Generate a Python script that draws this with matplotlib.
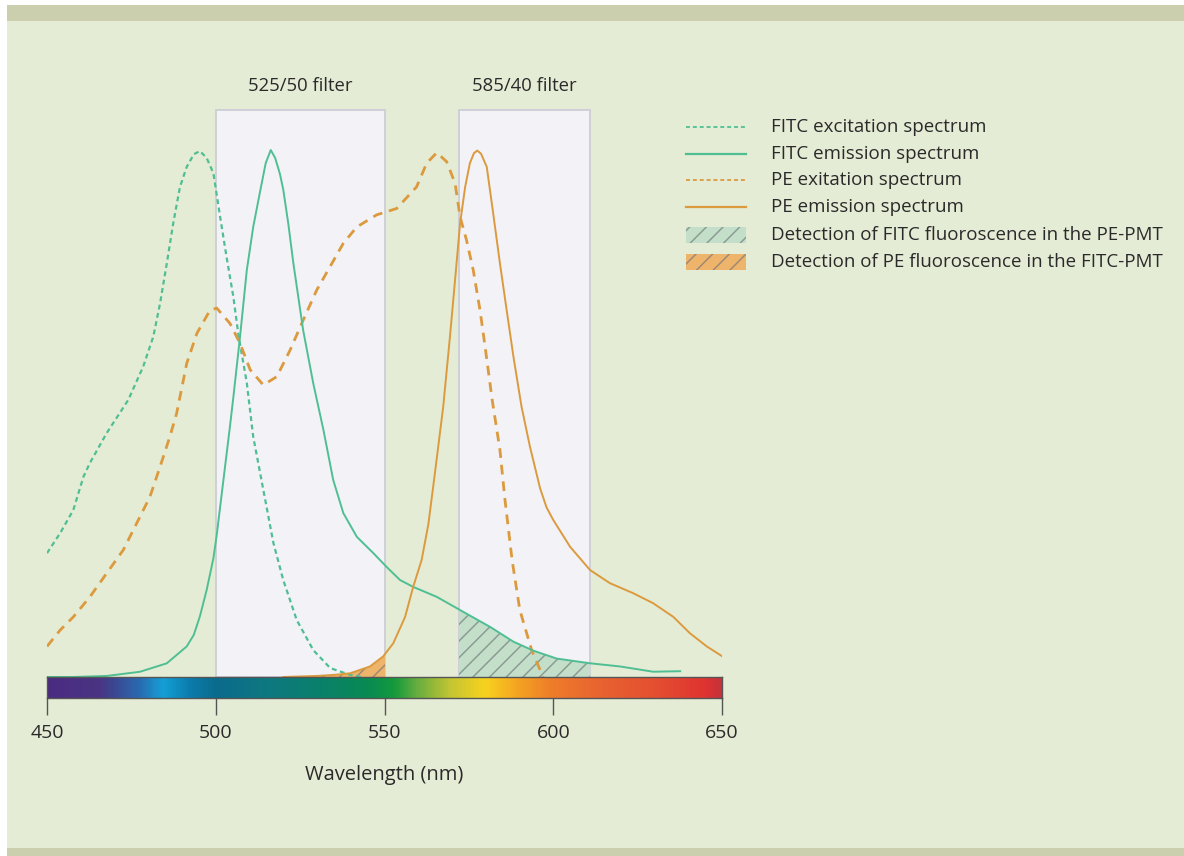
import numpy as np
import matplotlib
matplotlib.use("Agg")
import matplotlib.pyplot as plt
from matplotlib.patches import Rectangle
from matplotlib.lines import Line2D
from matplotlib.colors import LinearSegmentedColormap

plt.rcParams['font.family'] = ['Open Sans', 'DejaVu Sans']

# ---------------- data ----------------
fitc_ex_nm = [450, 453.9, 457.8, 460.8, 462.7, 467.7, 474.1, 478.5, 481.5, 483.5, 485.5,
              487.4, 489.4, 491.4, 493.5, 495.3, 497.3, 499.3, 501.3, 503.2, 505.2, 506.7,
              509.2, 511.1, 514.1, 517.1, 520.0, 524.0, 528.9, 533.9, 539.8, 543.0]
fitc_ex_val = [0.235, 0.273, 0.317, 0.380, 0.406, 0.463, 0.526, 0.589, 0.646, 0.709, 0.785,
               0.861, 0.930, 0.968, 0.992, 0.998, 0.985, 0.956, 0.873, 0.797, 0.722, 0.650,
               0.558, 0.456, 0.355, 0.254, 0.184, 0.108, 0.051, 0.017, 0.004, 0.0]

fitc_em_nm = [450, 457.7, 467.7, 477.6, 485.5, 491.4, 493.5, 495.3, 497.3, 499.3, 500.3,
              502.2, 504.2, 505.2, 507.2, 509.2, 511.1, 513.1, 514.8, 516.3, 517.6, 519.0,
              520.0, 521.5, 523.0, 525.9, 528.9, 531.9, 534.8, 537.8, 541.8, 546.7, 550.6,
              554.6, 558.5, 565.5, 572.4, 581.3, 588.2, 594.1, 601.0, 610.9, 619.8, 629.6,
              637.6]
fitc_em_val = [0.0, 0.0, 0.002, 0.010, 0.026, 0.058, 0.080, 0.115, 0.165, 0.225, 0.270,
               0.370, 0.475, 0.530, 0.646, 0.772, 0.854, 0.920, 0.975, 1.0, 0.985, 0.955,
               0.925, 0.860, 0.785, 0.658, 0.557, 0.469, 0.374, 0.311, 0.266, 0.235, 0.209,
               0.184, 0.171, 0.152, 0.127, 0.095, 0.067, 0.050, 0.035, 0.026, 0.020, 0.010,
               0.011]

pe_ex_nm = [450, 453.9, 457.8, 462.7, 467.7, 472.6, 476.6, 480.5, 483.5, 486.4, 488.4,
            491.4, 494.4, 498.3, 500.3, 504.2, 507.2, 510.2, 514.1, 518.1, 522.0, 525.9,
            529.9, 533.9, 537.8, 541.8, 547.7, 553.6, 559.5, 562.5, 565.5, 568.4, 570.9,
            572.4, 574.3, 576.3, 578.3, 579.8, 581.9, 584.2, 585.7, 587.8, 590.1, 593.6, 597.0]
pe_ex_val = [0.058, 0.089, 0.114, 0.152, 0.197, 0.241, 0.292, 0.342, 0.399, 0.456, 0.500,
             0.595, 0.652, 0.696, 0.700, 0.671, 0.633, 0.583, 0.554, 0.570, 0.620, 0.677,
             0.734, 0.779, 0.823, 0.854, 0.877, 0.889, 0.930, 0.975, 0.995, 0.978, 0.937,
             0.873, 0.829, 0.772, 0.696, 0.627, 0.526, 0.431, 0.336, 0.222, 0.127, 0.051, 0.0]

pe_em_nm = [520, 525, 530, 535, 539.8, 545.7, 549.6, 552.6, 556.1, 558.5, 561.0, 563.0,
            565.0, 567.4, 569.4, 570.9, 572.4, 573.9, 575.3, 576.5, 577.5, 578.6, 580.3,
            582.2, 584.2, 586.2, 588.2, 590.6, 593.1, 596.1, 598.0, 600.0, 605.0, 610.9,
            616.8, 623.7, 629.6, 635.6, 640.5, 645.5, 649.9]
pe_em_val = [0.0, 0.001, 0.002, 0.004, 0.007, 0.020, 0.039, 0.064, 0.114, 0.171, 0.222,
             0.290, 0.390, 0.513, 0.646, 0.753, 0.861, 0.930, 0.975, 0.994, 0.999, 0.993,
             0.968, 0.880, 0.785, 0.696, 0.608, 0.513, 0.437, 0.358, 0.322, 0.298, 0.247,
             0.203, 0.178, 0.159, 0.140, 0.114, 0.083, 0.058, 0.040]

filter_names = ["525/50 filter", "585/40 filter"]
filter_lo = [500, 572.1]
filter_hi = [550, 610.9]
filter_top = 1.076

ticks_nm = [450, 500, 550, 600, 650]

legend_labels = ["FITC excitation spectrum", "FITC emission spectrum",
                 "PE exitation spectrum", "PE emission spectrum",
                 "Detection of FITC fluoroscence in the PE-PMT",
                 "Detection of PE fluoroscence in the FITC-PMT"]

cbar_nm = [450, 465, 469, 477, 484, 492, 500, 515, 530, 545, 553, 560, 570, 580, 590,
           600, 615, 630, 645, 650]
cbar_colors = ["#4b2b82", "#4a3482", "#3d4590", "#2a6ab0", "#14a0d6", "#0a7cac", "#0a6b8c",
               "#0e7880", "#0a806c", "#088a52", "#149a3c", "#6aae40", "#c6c632", "#f8d21e",
               "#f4a222", "#ee7c2a", "#e86230", "#e45030", "#e03430", "#c8323a"]

# ---------------- style ----------------
W, H = 1184, 856
BG = "#e5ecd5"
BAR = "#cbcfae"
GREEN = "#4fbf93"
ORANGE = "#dc9a3e"
FILTER_FACE = "#f2f2f7"
FILTER_EDGE = "#cdcdd6"
TXT = "#2a2a2a"

fig = plt.figure(figsize=(W / 100, H / 100), dpi=100)
fig.patch.set_facecolor("white")

def fx(px):
    return px / W

def fy(py):
    return 1 - py / H

fig.add_artist(Rectangle((fx(7), 0), 1 - fx(7), 1 - 5 / H, transform=fig.transFigure,
                         facecolor=BG, edgecolor="none", zorder=-10))
fig.add_artist(Rectangle((fx(7), fy(21)), 1 - fx(7), 16 / H, transform=fig.transFigure,
                         facecolor=BAR, edgecolor="none", zorder=-9))
fig.add_artist(Rectangle((fx(7), 0), 1 - fx(7), 8 / H, transform=fig.transFigure,
                         facecolor=BAR, edgecolor="none", zorder=-9))

x0, x1 = 47, 722
base_py = 677
ymax = 1.1
top_py = base_py - ymax * 527
ax = fig.add_axes([fx(x0), fy(base_py), fx(x1) - fx(x0), (base_py - top_py) / H])
ax.set_xlim(450, 650)
ax.set_ylim(0, ymax)
ax.set_facecolor("none")
ax.axis("off")

for name, lo, hi in zip(filter_names, filter_lo, filter_hi):
    r = Rectangle((lo, 0), hi - lo, filter_top, facecolor=FILTER_FACE, edgecolor=FILTER_EDGE,
                  lw=1.3, zorder=1)
    ax.add_patch(r)
    ax.text((lo + hi) / 2, filter_top + 0.046, name, ha="center", va="center",
            fontsize=13.3, color=TXT)

plt.rcParams['hatch.linewidth'] = 1.1
f1 = ax.fill_between(fitc_em_nm, fitc_em_val, 0, facecolor="#c3dfca", edgecolor="#8c9c94",
                     hatch="//", lw=0, zorder=2)
f1.set_clip_path(Rectangle((filter_lo[1], 0), filter_hi[1] - filter_lo[1], filter_top,
                           transform=ax.transData))
f2 = ax.fill_between(pe_em_nm, pe_em_val, 0, facecolor="#eeb46c", edgecolor="#a08a70",
                     hatch="//", lw=0, zorder=2)
f2.set_clip_path(Rectangle((filter_lo[0], 0), filter_hi[0] - filter_lo[0], filter_top,
                           transform=ax.transData))

ax.plot(fitc_ex_nm, fitc_ex_val, color=GREEN, lw=1.6, ls=(0, (2.2, 1.6)), zorder=3)
ax.plot(fitc_em_nm, fitc_em_val, color=GREEN, lw=1.4, zorder=4)
ax.plot(pe_ex_nm, pe_ex_val, color=ORANGE, lw=2.0, ls=(0, (3.5, 2.5)), zorder=3)
ax.plot(pe_em_nm, pe_em_val, color=ORANGE, lw=1.4, zorder=4)

# spectrum bar
cax = fig.add_axes([fx(x0), fy(698), fx(x1) - fx(x0), 21 / H])
pos = [(v - cbar_nm[0]) / (cbar_nm[-1] - cbar_nm[0]) for v in cbar_nm]
cmap = LinearSegmentedColormap.from_list("spec", list(zip(pos, cbar_colors)))
grad = np.linspace(450, 650, 800)[None, :]
cax.imshow(grad, extent=[450, 650, 0, 1], aspect="auto", cmap=cmap, vmin=450, vmax=650)
cax.set_xlim(450, 650)
cax.set_ylim(0, 1)
cax.set_yticks([])
cax.set_xticks(ticks_nm)
cax.set_xticklabels([str(t) for t in ticks_nm], fontsize=14, color=TXT)
cax.tick_params(axis="x", direction="out", length=12.5, width=1.0, color="#555555", pad=6)
for s in cax.spines.values():
    s.set_color("#555555")
    s.set_linewidth(1.0)
cax.set_xlabel("Wavelength (nm)", fontsize=14.5, color=TXT, labelpad=17)

# legend (drawn manually)
leg_rows = [127, 154, 180, 207, 235, 262]
lx0, lx1, tx = 686, 746, 771
styles = [(GREEN, (0, (2.2, 1.6)), 1.3), (GREEN, "-", 1.6),
          (ORANGE, (0, (2.2, 1.6)), 1.3), (ORANGE, "-", 1.6)]
for i, (c, ls, lw) in enumerate(styles):
    fig.add_artist(Line2D([fx(lx0), fx(lx1)], [fy(leg_rows[i])] * 2, color=c, ls=ls, lw=lw,
                          transform=fig.transFigure))
for i, (fc, ec) in enumerate([("#c3dfca", "#8c9c94"), ("#eeb46c", "#a08a70")]):
    row = leg_rows[4 + i]
    fig.add_artist(Rectangle((fx(lx0), fy(row + 8)), fx(lx1) - fx(lx0), 16 / H,
                             transform=fig.transFigure, facecolor=fc, edgecolor=ec,
                             hatch="//", lw=0))
for lab, row in zip(legend_labels, leg_rows):
    fig.text(fx(tx), fy(row), lab, ha="left", va="center", fontsize=13.5, color=TXT)

fig.savefig("out.png", dpi=100, facecolor=fig.get_facecolor())
